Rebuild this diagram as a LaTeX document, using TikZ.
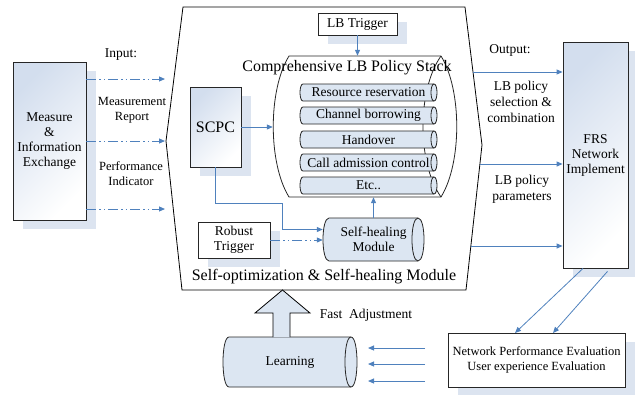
\documentclass[tikz,border=0pt]{standalone}
\usepackage{fontspec}
\setmainfont{Liberation Serif}
\usetikzlibrary{arrows.meta,calc,shadows}
\definecolor{lineblue}{HTML}{4F81BD}
\definecolor{cylfill}{HTML}{DCE6F2}
\definecolor{shadowc}{HTML}{DCE4F0}
\definecolor{gradc}{HTML}{D3DEEE}
\newcommand\fsmain{\fontsize{13.5}{15}\selectfont}
\newcommand\fssmall{\fontsize{12.5}{15}\selectfont}
\newcommand\fsbig{\fontsize{16}{18}\selectfont}
% horizontal cylinder: #1 name, #2 cx, #3 cy, #4 width, #5 height, #6 end radius, #7 fill, #8 text
\newcommand\hcyl[8]{%
  \pgfmathsetmacro\hcL{#2-#4/2+#6}%
  \pgfmathsetmacro\hcR{#2+#4/2-#6}%
  \pgfmathsetmacro\hcT{#3-#5/2}%
  \pgfmathsetmacro\hcB{#3+#5/2}%
  \pgfmathsetmacro\hcK{4/3*#6}%
  \path[fill=#7, draw=black!85, line width=0.8pt] (\hcR,\hcT) -- (\hcL,\hcT)
     .. controls (\hcL-\hcK,\hcT) and (\hcL-\hcK,\hcB) .. (\hcL,\hcB) -- (\hcR,\hcB)
     .. controls (\hcR+\hcK,\hcB) and (\hcR+\hcK,\hcT) .. (\hcR,\hcT) -- cycle;
  \draw[black!85, line width=0.8pt] (\hcR,\hcT) .. controls (\hcR-\hcK,\hcT) and (\hcR-\hcK,\hcB) .. (\hcR,\hcB);
  \node[inner sep=0pt, minimum width=#4pt, minimum height=#5pt, align=center, font=\fsmain] (#1) at (#2,#3) {#8};
}
\begin{document}
\begin{tikzpicture}[x=1pt,y=-1pt,
  box/.style={draw=black!85, line width=0.8pt, rectangle, inner sep=0pt, align=center, fill=white, font=\fsmain},
  shad/.style={general shadow={fill=shadowc, shadow xshift=10pt, shadow yshift=-9pt}},
  grad/.style={top color=gradc, bottom color=white, shading angle=45},
  lbl/.style={inner sep=0pt, align=center, font=\fsmain},
  outline/.style={draw=black!85, line width=0.8pt},
  bline/.style={draw=lineblue, line width=1pt, -{Triangle[length=6pt,width=5pt]}},
  dline/.style={bline, dash pattern=on 10pt off 3pt on 1.5pt off 3pt on 1.5pt off 3pt}
]
\useasboundingbox (0,0) rectangle (635,394);

% main module outline
\draw[line width=0.8pt] (183,7) -- (465,7) -- (482,145) -- (466,290) -- (182,290) -- (166,141) -- cycle;

% boxes
\node[box, shad, grad, minimum width=73pt, minimum height=158pt] (meas) at (49.5,141) {Measure\\\&\\Information\\Exchange};
\node[box, shad, grad, minimum width=51pt, minimum height=80pt, font=\fsbig] (scpc) at (215.5,127) {SCPC};
\node[box, shad, minimum width=79pt, minimum height=22pt] (lbt) at (357.5,24) {LB Trigger};
\node[box, shad, minimum width=72pt, minimum height=36pt] (robust) at (234,240) {Robust\\Trigger};
\node[box, shad, grad, minimum width=65pt, minimum height=226pt] (frs) at (595.5,155) {FRS\\Network\\Implement};
\node[box, shad, minimum width=177pt, minimum height=54pt, font=\fssmall] (eval) at (536.5,360) {Network Performance Evaluation\\User experience Evaluation};

% policy stack (large horizontal cylinder)
\draw[outline] (441,56) -- (289,56) .. controls (268,90) and (268,163) .. (289,197) -- (441,197)
   .. controls (462,163) and (462,90) .. (441,56);
\draw[outline] (441,56) .. controls (417,90) and (417,163) .. (441,197);
\node[inner sep=0pt, minimum width=184pt, minimum height=141pt] (stack) at (365,126.5) {};
\node[lbl, font=\fsbig] (stacklbl) at (347,68) {Comprehensive LB Policy Stack};
\hcyl{p1}{368.5}{92.5}{137}{17}{3}{cylfill}{Resource reservation}
\hcyl{p2}{368.5}{115.5}{137}{17}{3}{cylfill}{Channel borrowing}
\hcyl{p3}{368.5}{139.5}{137}{17}{3}{cylfill}{Handover}
\hcyl{p4}{368.5}{162.5}{137}{17}{3}{cylfill}{Call admission control}
\hcyl{p5}{368.5}{185.5}{137}{17}{3}{cylfill}{Etc..}

% self-healing module and learning
\hcyl{shm}{373.5}{239.5}{101}{43}{6}{cylfill}{Self-healing\\Module}
\hcyl{learn}{290}{362}{134}{50}{6}{cylfill}{Learning}

% labels
\node[lbl] (inlbl) at (121,55) {Input:};
\node[lbl, font=\fssmall] (mrlbl) at (132,110) {Measurement\\Report};
\node[lbl, font=\fssmall] (pilbl) at (131,174) {Performance\\Indicator};
\node[lbl] (outlbl) at (510,50) {Output:};
\node[lbl, font={\fontsize{13.5}{16}\selectfont}] (sellbl) at (521,102) {LB policy\\selection \&\\combination};
\node[lbl, font={\fontsize{13.5}{16}\selectfont}] (parlbl) at (522,189) {LB policy\\parameters};
\node[lbl, font=\fsbig] (modlbl) at (324,277) {Self-optimization \& Self-healing Module};
\node[lbl] (fastlbl) at (366,315) {Fast~~Adjustment};

% input arrows
\coordinate (i1) at (165,79);
\coordinate (i2) at (165,141);
\coordinate (i3) at (165,209);
\draw[dline] (meas.east |- i1) -- (i1);
\draw[dline] (meas.east |- i2) -- (i2);
\draw[dline] (meas.east |- i3) -- (i3);

% internal arrows
\draw[bline] (lbt.south) -- (lbt.south |- stack.north);
\draw[bline] (scpc.east) -- (scpc.east -| stack.west);
\draw[bline] (scpc.south) |- (282,203) |- ($(shm.west)+(0,-10)$);
\draw[dline] (robust.east) -- (robust.east -| shm.west);
\draw[bline] (shm.north) -- (shm.north |- stack.south);

% output arrows
\coordinate (o1) at (473,72);
\coordinate (o2) at (480,164);
\coordinate (o3) at (471,246);
\draw[bline] (o1) -- (o1 -| frs.west);
\draw[bline] (o2) -- (o2 -| frs.west);
\draw[bline] (o3) -- (o3 -| frs.west);

% feedback arrows
\draw[bline, line width=0.8pt] ($(frs.south)+(-12.5,0)$) -- (515,333);
\draw[bline, line width=0.8pt] ($(frs.south)+(12,3)$) -- (553,333);
\coordinate (f1) at (425,348);
\coordinate (f2) at (425,364);
\coordinate (f3) at (425,381);
\draw[bline] (f1) -- ++(-57,0);
\draw[bline] (f2) -- ++(-57,0);
\draw[bline] (f3) -- ++(-57,0);

% hollow up arrow
\draw[fill=cylfill, line width=0.8pt] (273,337) -- (273,313) -- (255,313) -- (282.5,290) -- (310,313) -- (290,313) -- (290,337);
\end{tikzpicture}
\end{document}
